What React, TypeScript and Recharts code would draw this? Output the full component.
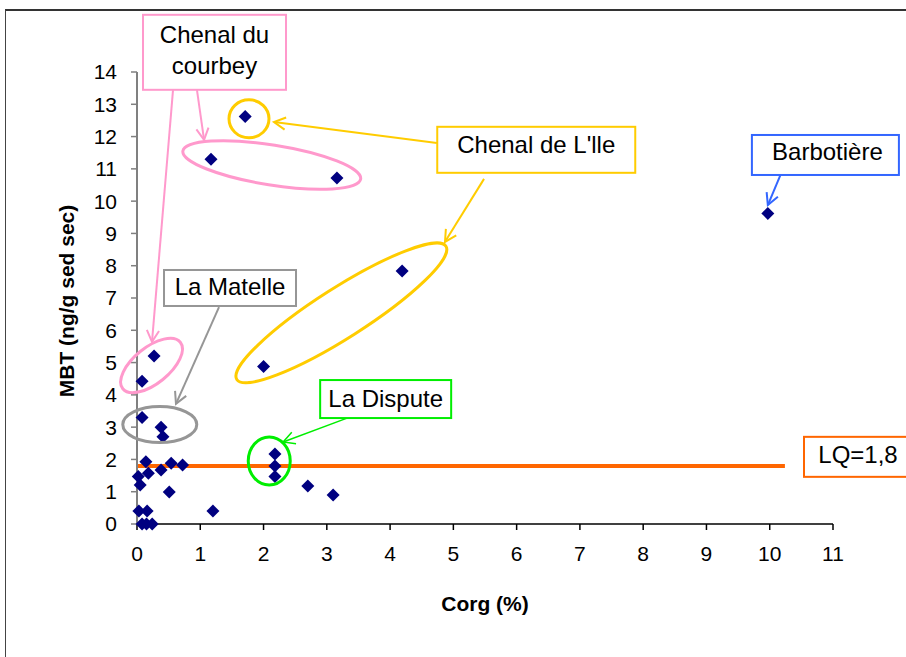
import React from 'react';
import { ScatterChart, Scatter, XAxis, YAxis, ReferenceLine, ReferenceDot } from 'recharts';

// Organic carbon (%) and MBT (ng/g dry sediment) for each sample
const corg = [9.97, 1.71, 4.19, 2.0, 1.17, 3.16, 0.27, 0.08, 0.08, 0.38, 0.41, 2.18, 2.18, 2.18, 2.7, 3.1, 1.2, 0.51, 0.54, 0.72, 0.38, 0.14, 0.18, 0.02, 0.05, 0.03, 0.16, 0.08, 0.15, 0.24];
const mbt = [9.62, 12.62, 7.84, 4.88, 11.3, 10.72, 5.2, 4.42, 3.3, 3.0, 2.7, 2.17, 1.8, 1.47, 1.18, 0.9, 0.4, 0.99, 1.88, 1.83, 1.67, 1.93, 1.57, 1.47, 1.21, 0.4, 0.4, 0, 0, 0];

const xTicks = [0, 1, 2, 3, 4, 5, 6, 7, 8, 9, 10, 11];
const yTicks = [0, 1, 2, 3, 4, 5, 6, 7, 8, 9, 10, 11, 12, 13, 14];

// Limit of quantification
const LQ = 1.8;
const lqEnd = 10.24;

const data = corg.map((c, i) => ({ corg: c, mbt: mbt[i] }));

const PINK = '#FF99CC';
const YELLOW = '#FFCC00';
const GRAY = '#969696';
const GREEN = '#00EE00';
const BLUE = '#3366FF';
const ORANGE = '#FF6600';
const FONT = '"Liberation Sans", Arial, Helvetica, sans-serif';

// Site groupings circled on the plot (anchor in data units)
const rings = [
  { x: 2.13, y: 11.12, rx: 90, ry: 20, rot: 9, color: PINK },
  { x: 0.23, y: 4.91, rx: 37, ry: 18, rot: -39, color: PINK },
  { x: 1.77, y: 12.55, rx: 20, ry: 19, rot: 0, color: YELLOW },
  { x: 3.23, y: 6.54, rx: 124, ry: 25, rot: -32.5, color: YELLOW },
  { x: 0.36, y: 3.08, rx: 37, ry: 18, rot: 0, color: GRAY },
  { x: 2.09, y: 1.95, rx: 21, ry: 24, rot: 0, color: GREEN },
];

// Site name callouts
const callouts = [
  { x: 1.225, y: 14.61, w: 143, h: 75, lines: ['Chenal du', 'courbey'], dx: 0, dy: -2, color: PINK },
  { x: 6.31, y: 11.59, w: 198, h: 46, lines: ["Chenal de L'lle"], dx: 0, dy: -5, color: YELLOW },
  { x: 10.88, y: 11.43, w: 147, h: 40, lines: ['Barbotière'], dx: 2, dy: -3, color: BLUE },
  { x: 1.47, y: 7.31, w: 132, h: 36, lines: ['La Matelle'], dx: 0, dy: -1, color: GRAY },
  { x: 3.93, y: 3.87, w: 131, h: 38, lines: ['La Dispute'], dx: 0, dy: -1, color: GREEN },
  { x: 11.49, y: 2.08, w: 120, h: 40, lines: [`LQ=${String(LQ).replace('.', ',')}`], dx: -6, dy: -2, color: ORANGE },
];

// Pointers from callouts to their groups
const pointers = [
  { from: [0.948, 13.44], to: [1.06, 11.9], color: PINK, w: 2 },
  { from: [0.569, 13.44], to: [0.237, 5.64], color: PINK, w: 2 },
  { from: [4.74, 11.8], to: [2.165, 12.45], color: YELLOW, w: 2 },
  { from: [5.485, 10.69], to: [4.868, 8.74], color: YELLOW, w: 2 },
  { from: [1.296, 6.72], to: [0.616, 3.72], color: GRAY, w: 2 },
  { from: [3.32, 3.28], to: [2.31, 2.54], color: GREEN, w: 1.5 },
  { from: [10.21, 11.0], to: [9.97, 9.88], color: BLUE, w: 2 },
];

const Diamond = (props: any) => {
  const { cx, cy } = props;
  if (cx == null || cy == null) return <g />;
  const r = 6.5;
  return (
    <polygon
      points={`${cx},${cy - r} ${cx + r},${cy} ${cx},${cy + r} ${cx - r},${cy}`}
      fill="#000080"
    />
  );
};

const arrowShape = (color: string, width: number) => (props: any) => {
  const { x1, y1, x2, y2 } = props;
  const ang = Math.atan2(y2 - y1, x2 - x1);
  const len = 13;
  const spread = (28 * Math.PI) / 180;
  const ax = x2 - len * Math.cos(ang - spread);
  const ay = y2 - len * Math.sin(ang - spread);
  const bx = x2 - len * Math.cos(ang + spread);
  const by = y2 - len * Math.sin(ang + spread);
  return (
    <g>
      <line x1={x1} y1={y1} x2={x2} y2={y2} stroke={color} strokeWidth={width} />
      <polyline
        points={`${ax},${ay} ${x2},${y2} ${bx},${by}`}
        fill="none"
        stroke={color}
        strokeWidth={width}
        strokeLinejoin="miter"
      />
    </g>
  );
};

const ringShape = (r: (typeof rings)[number]) => (props: any) => (
  <ellipse
    cx={props.cx}
    cy={props.cy}
    rx={r.rx}
    ry={r.ry}
    transform={`rotate(${r.rot} ${props.cx} ${props.cy})`}
    fill="none"
    stroke={r.color}
    strokeWidth={3}
  />
);

const calloutShape = (c: (typeof callouts)[number]) => (props: any) => {
  const { cx, cy } = props;
  const lh = 31;
  const top = cy + c.dy - ((c.lines.length - 1) * lh) / 2;
  return (
    <g>
      <rect
        x={cx - c.w / 2}
        y={cy - c.h / 2}
        width={c.w}
        height={c.h}
        fill="#fff"
        stroke={c.color}
        strokeWidth={2}
      />
      {c.lines.map((t, i) => (
        <text
          key={t}
          x={cx + c.dx}
          y={top + i * lh + 8.5}
          textAnchor="middle"
          fontFamily={FONT}
          fontSize={24}
          fill="#000"
        >
          {t}
        </text>
      ))}
    </g>
  );
};

const YTitle = (props: any) => {
  const vb = props.viewBox || { x: 0, y: 72, width: 137, height: 452 };
  const x = vb.x + 66;
  const y = vb.y + vb.height / 2 + 3;
  return (
    <text
      x={x}
      y={y}
      transform={`rotate(-90 ${x} ${y})`}
      textAnchor="middle"
      dominantBaseline="central"
      fontFamily={FONT}
      fontWeight="bold"
      fontSize={21}
      fill="#000"
    >
      MBT (ng/g sed sec)
    </text>
  );
};

const XTitle = (props: any) => {
  const vb = props.viewBox || { x: 137, y: 524, width: 696, height: 100 };
  return (
    <text
      x={vb.x + vb.width / 2}
      y={vb.y + 87}
      textAnchor="middle"
      fontFamily={FONT}
      fontWeight="bold"
      fontSize={21}
      fill="#000"
    >
      Corg (%)
    </text>
  );
};

export default function App() {
  return (
    <div
      style={{
        position: 'absolute',
        left: 0,
        top: 0,
        width: 906,
        height: 657,
        overflow: 'hidden',
        background: '#fff',
      }}
    >
      <div
        style={{
          position: 'absolute',
          left: 5,
          top: 9,
          width: 960,
          height: 720,
          borderTop: '2px solid #333',
          borderLeft: '1px solid #444',
        }}
      />
      <div style={{ position: 'absolute', left: 0, top: 0 }}>
        <ScatterChart
          width={906}
          height={657}
          margin={{ top: 72, right: 73, bottom: 33, left: 0 }}
          style={{ fontFamily: FONT }}
        >
          <XAxis
            type="number"
            dataKey="corg"
            domain={[0, 11]}
            ticks={xTicks}
            interval={0}
            height={100}
            axisLine={{ stroke: '#000', strokeWidth: 1.5 }}
            tickLine={{ stroke: '#000', strokeWidth: 1.5 }}
            tickSize={6}
            tickMargin={16}
            tick={{ fontSize: 21, fill: '#000', fontFamily: FONT }}
            label={{ content: XTitle }}
          />
          <YAxis
            type="number"
            dataKey="mbt"
            domain={[0, 14]}
            ticks={yTicks}
            interval={0}
            width={137}
            axisLine={{ stroke: '#808080', strokeWidth: 2 }}
            tickLine={{ stroke: '#808080', strokeWidth: 1.5 }}
            tickSize={6}
            tickMargin={14}
            tick={{ fontSize: 21, fill: '#000', fontFamily: FONT }}
            label={{ content: YTitle }}
          />
          <Scatter data={data} shape={Diamond} isAnimationActive={false} />
          <ReferenceLine
            segment={[
              { x: 0, y: LQ },
              { x: lqEnd, y: LQ },
            ]}
            stroke={ORANGE}
            strokeWidth={4}
            ifOverflow="visible"
          />
          {rings.map((r, i) => (
            <ReferenceDot key={`ring${i}`} x={r.x} y={r.y} ifOverflow="visible" shape={ringShape(r)} />
          ))}
          {pointers.map((p, i) => (
            <ReferenceLine
              key={`ptr${i}`}
              segment={[
                { x: p.from[0], y: p.from[1] },
                { x: p.to[0], y: p.to[1] },
              ]}
              ifOverflow="visible"
              shape={arrowShape(p.color, p.w)}
            />
          ))}
          {callouts.map((c, i) => (
            <ReferenceDot key={`box${i}`} x={c.x} y={c.y} ifOverflow="visible" shape={calloutShape(c)} />
          ))}
        </ScatterChart>
      </div>
    </div>
  );
}
